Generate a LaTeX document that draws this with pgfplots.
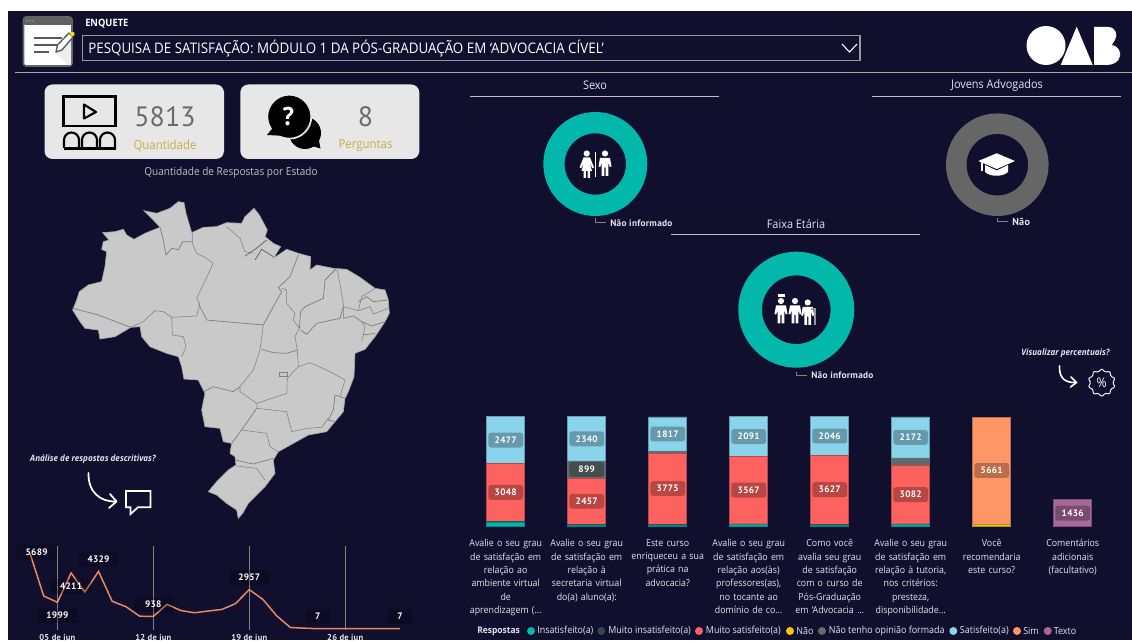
\documentclass[border=0pt]{standalone}
\usepackage{pgfplots}
\pgfplotsset{compat=1.18}
\usepackage{fontspec}
\setmainfont{Open Sans}[FakeStretch=0.92]
\newfontfamily\din{PT Sans}[LetterSpace=3]
\newfontfamily\num{PT Sans}
\usetikzlibrary{shapes.geometric}
\definecolor{bgd}{HTML}{110F2E}
\definecolor{cIns}{HTML}{01B8AA}
\definecolor{cMIns}{HTML}{374649}
\definecolor{cMSat}{HTML}{FD625E}
\definecolor{cNao}{HTML}{F2C80F}
\definecolor{cNaoT}{HTML}{5F6B6D}
\definecolor{cSat}{HTML}{8AD4EB}
\definecolor{cSim}{HTML}{FE9666}
\definecolor{cTex}{HTML}{A66999}
\definecolor{txt}{HTML}{E4E4EC}
\definecolor{gold}{HTML}{C9AC3E}
\newcommand\fs[2]{\fontsize{#1}{#2}\selectfont}
\newcommand\person[2]{% x, y of head
  \fill[white] (#1,#2) circle (3.1);
  \fill[white] (#1-5,#2+4.5) -- (#1+5,#2+4.5) -- (#1+6.5,#2+13) -- (#1+4.8,#2+13.5) -- (#1+3.4,#2+9) -- (#1+3.4,#2+22.5) -- (#1+.6,#2+22.5) -- (#1+.6,#2+14) -- (#1-.6,#2+14) -- (#1-.6,#2+22.5) -- (#1-3.4,#2+22.5) -- (#1-3.4,#2+9) -- (#1-4.8,#2+13.5) -- (#1-6.5,#2+13) -- cycle;
}
\begin{document}
\begin{tikzpicture}
\path[use as bounding box, clip] (0,0) rectangle (849pt,480pt);
\fill[white] (0,0) rectangle (849pt,480pt);
\fill[bgd] (6pt,0) rectangle (849pt,471.75pt);

% ---------- map ----------
\begin{axis}[at={(45pt,82.5pt)},anchor=south west,scale only axis,width=255pt,height=255pt,
  xmin=0,xmax=1020,ymin=0,ymax=1020,y dir=reverse,hide axis,clip=false]
\addplot[fill=black!21,draw=black!35,line width=.5pt] coordinates {
(38,360)(50,330)(58,305)(85,285)(125,275)(135,230)(140,185)(125,178)(130,155)(147,150)(128,128)(165,125)(190,118)(200,135)(222,148)(255,130)(300,112)(280,90)(252,62)(290,70)(330,55)(355,35)(372,38)(378,70)(395,128)(430,112)(470,110)(500,98)(545,100)(555,80)(582,55)(598,75)(622,120)(615,140)(640,160)(662,170)(640,205)(680,178)(715,190)(752,200)(750,240)(770,225)(820,235)(860,238)(900,262)(945,295)(975,300)(985,330)(988,370)(975,395)(945,440)(915,478)(885,490)(882,560)(865,605)(855,625)(850,665)(825,695)(800,725)(745,735)(700,760)(655,785)(640,810)(645,850)(615,890)(590,915)(565,940)(548,970)(535,985)(530,960)(500,940)(470,915)(445,905)(470,875)(505,840)(528,825)(525,800)(510,790)(515,760)(490,755)(480,715)(435,710)(425,660)(435,610)(415,570)(372,567)(365,530)(355,500)(320,490)(270,470)(245,440)(240,410)(212,412)(165,440)(120,447)(115,420)(75,415)(60,395)(38,360)} -- cycle;
\pgfplotsset{cycle list={{black!50,line width=.55pt}}}
\addplot+[no marks,black!50] coordinates {(38,355)(115,375)(212,412)};
\addplot+[no marks,black!50] coordinates {(212,412)(250,395)(285,362)(310,365)(335,382)(410,378)(420,340)(410,325)(460,220)(440,205)(410,190)(397,160)(397,130)};
\addplot+[no marks,black!50] coordinates {(300,112)(310,150)(318,195)(335,175)(355,180)(368,155)(397,155)};
\addplot+[no marks,black!50] coordinates {(335,382)(337,435)(370,440)(378,470)(365,500)};
\addplot+[no marks,black!50] coordinates {(415,340)(440,390)(610,405)};
\addplot+[no marks,black!50] coordinates {(500,110)(540,145)(555,185)(580,190)};
\addplot+[no marks,black!50] coordinates {(610,405)(640,350)(665,305)(655,293)(690,260)(715,195)};
\addplot+[no marks,black!50] coordinates {(665,295)(680,300)(680,340)(705,370)(700,390)(718,415)};
\addplot+[no marks,black!50] coordinates {(718,415)(722,365)(735,350)(790,325)(795,270)(830,235)};
\addplot+[no marks,black!50] coordinates {(832,240)(850,340)(850,385)};
\addplot+[no marks,black!50] coordinates {(722,420)(740,433)(770,400)(840,385)(850,350)};
\addplot+[no marks,black!50] coordinates {(850,350)(895,362)(905,320)(945,295)};
\addplot+[no marks,black!50] coordinates {(895,335)(920,320)(940,335)(985,330)};
\addplot+[no marks,black!50] coordinates {(895,362)(930,350)(940,372)(985,355)};
\addplot+[no marks,black!50] coordinates {(850,385)(880,378)(905,395)(935,408)(975,395)};
\addplot+[no marks,black!50] coordinates {(905,395)(915,410)(905,455)};
\addplot+[no marks,black!50] coordinates {(910,435)(945,430)};
\addplot+[no marks,black!50] coordinates {(718,415)(705,440)(712,480)(715,530)};
\addplot+[no marks,black!50] coordinates {(605,478)(640,488)(680,490)(712,480)};
\addplot+[no marks,black!50] coordinates {(610,405)(600,480)(580,540)(540,590)(540,605)};
\addplot+[no marks,black!50] coordinates {(432,605)(460,590)(520,605)(540,590)};
\addplot+[no marks,black!50] coordinates {(540,605)(590,640)(680,610)(682,565)(705,540)(715,530)(750,518)(810,545)(855,570)(840,620)};
\addplot+[no marks,black!50] coordinates {(855,625)(825,615)(820,660)(805,690)(825,695)};
\addplot+[no marks,black!50] coordinates {(805,685)(785,712)(740,715)(695,725)(680,665)(590,655)(592,640)};
\addplot+[no marks,black!50] coordinates {(590,655)(545,720)(515,760)};
\addplot+[no marks,black!50] coordinates {(545,720)(620,730)(630,770)(655,785)};
\addplot+[no marks,black!50] coordinates {(525,810)(580,822)(640,805)};
\addplot+[no marks,black!50] coordinates {(528,828)(590,835)(615,870)};
\addplot+[no marks,black!50] coordinates {(658,548)(682,548)(682,560)(658,560)(658,548)};
\addplot[no marks,black!65,line width=.5pt] coordinates {(555,198)(585,178)(620,150)};
\addplot[no marks,black!65,line width=.5pt] coordinates {(585,210)(605,178)(640,200)};
\end{axis}

% ---------- line chart ----------
\begin{axis}[at={(22.5pt,7.5pt)},anchor=south west,scale only axis,width=277.5pt,height=63pt,
  xmin=3,xmax=30,ymin=-90,ymax=6242,clip=false,
  axis line style={draw=none},tick style={draw=none},ytick=\empty,
  xtick={5,12,19,26},xticklabels={05 de jun,12 de jun,19 de jun,26 de jun},
  xmajorgrids,grid style={draw=black!50!white,line width=.8pt},
  xticklabel style={font=\din\bfseries\fs{6.4}{8},text=txt,yshift=-.8pt,inner sep=2pt}]
\addplot[no marks,draw=cSim!92!black,line width=1.1pt] coordinates {
(3,5689)(4,2470)(5,1999)(6,4211)(7,2770)(8,4329)(9,2070)(10,1670)(11,950)(12,938)(13,1840)(14,1380)(15,1210)(16,1340)(17,1460)(18,1900)(19,2957)(20,2210)(21,980)(22,100)(23,50)(24,7)(25,7)(26,7)(27,7)(28,7)(29,7)(30,7)};
\pgfplotsset{lab/.style={only marks,mark=none,point meta=explicit symbolic,nodes near coords,
  nodes near coords align={center},
  every node near coord/.append style={anchor=center,font=\din\bfseries\fs{7}{8},text=white,fill=black,
    fill opacity=.22,text opacity=1,rounded corners=2pt,minimum width=#1,minimum height=11pt,inner sep=0pt}}}
\addplot[lab=30pt,every node near coord/.append style={yshift=9pt}] coordinates {(8,4329)[4329](12,938)[938](19,2957)[2957]};
\addplot[lab=18pt,every node near coord/.append style={yshift=9pt}] coordinates {(24,7)[7](30,7)[7]};
\addplot[lab=30pt,every node near coord/.append style={yshift=-10pt}] coordinates {(5,1999)[1999](6,4211)[4211]};
\addplot[lab=30pt,every node near coord/.append style={xshift=5pt,yshift=.8pt}] coordinates {(3,5689)[5689]};
\end{axis}

% ---------- stacked bars ----------
\begin{axis}[at={(348.9pt,85pt)},anchor=south west,scale only axis,width=486pt,height=82.5pt,
  xmin=-.5,xmax=7.5,ymin=0,ymax=5813,clip=false,
  ybar stacked,bar width=28.5pt,
  axis line style={draw=none},tick style={draw=none},ytick=\empty,
  xtick={0,1,2,3,4,5,6,7},
  xticklabels={
    {Avalie o seu grau\\de satisfação em\\relação ao\\ambiente virtual\\de\\aprendizagem (…},
    {Avalie o seu grau\\de satisfação em\\relação à\\secretaria virtual\\do(a) aluno(a):},
    {Este curso\\enriqueceu a sua\\prática na\\advocacia?},
    {Avalie o seu grau\\de satisfação em\\relação aos(às)\\professores(as),\\no tocante ao\\domínio de co…},
    {Como você\\avalia seu grau\\de satisfação\\com o curso de\\Pós-Graduação\\em ‘Advocacia …},
    {Avalie o seu grau\\de satisfação em\\relação à tutoria,\\nos critérios:\\presteza,\\disponibilidade…},
    {Você\\recomendaria\\este curso?},
    {Comentários\\adicionais\\(facultativo)}},
  xticklabel style={font=\fs{7.2}{10},text=txt,align=center,text width=66pt,inner sep=0pt,anchor=north,yshift=-9.4pt}]
\addplot[fill=cIns,draw=cIns!70!bgd,line width=.4pt] coordinates {(0,250)(1,90)(2,90)(3,110)(4,100)(5,110)(6,0)(7,0)};
\addplot[fill=cMIns,draw=cMIns,line width=.4pt] coordinates {(0,40)(1,25)(2,40)(3,40)(4,40)(5,40)(6,0)(7,0)};
\addplot[fill=cMSat,draw=cMSat!70!bgd,line width=.4pt] coordinates {(0,3048)(1,2457)(2,3775)(3,3567)(4,3627)(5,3082)(6,0)(7,0)};
\addplot[fill=cNao,draw=cNao!70!bgd,line width=.4pt] coordinates {(0,0)(1,0)(2,0)(3,0)(4,0)(5,0)(6,140)(7,0)};
\addplot[fill=cNaoT,draw=cNaoT,line width=.4pt] coordinates {(0,0)(1,899)(2,85)(3,0)(4,0)(5,400)(6,0)(7,0)};
\addplot[fill=cSat,draw=cSat!70!bgd,line width=.4pt] coordinates {(0,2477)(1,2340)(2,1817)(3,2091)(4,2046)(5,2172)(6,0)(7,0)};
\addplot[fill=cSim,draw=cSim!70!bgd,line width=.4pt] coordinates {(0,0)(1,0)(2,0)(3,0)(4,0)(5,0)(6,5661)(7,0)};
\addplot[fill=cTex,draw=cTex!70!bgd,line width=.4pt] coordinates {(0,0)(1,0)(2,0)(3,0)(4,0)(5,0)(6,0)(7,1436)};
\end{axis}
% value labels of the bars
\begin{axis}[at={(348.9pt,85pt)},anchor=south west,scale only axis,width=486pt,height=82.5pt,
  xmin=-.5,xmax=7.5,ymin=0,ymax=5813,clip=false,hide axis]
\addplot[only marks,mark=none,point meta=explicit symbolic,nodes near coords,
  nodes near coords align={center},
  every node near coord/.append style={anchor=center,font=\din\bfseries\fs{7}{8},text=white,fill=black,fill opacity=.27,text opacity=1,
    rounded corners=2pt,minimum width=26pt,minimum height=11.2pt,inner sep=0pt}] coordinates {
(0,1814)[3048](0,4576)[2477]
(1,1343)[2457](1,3021)[899](1,4641)[2340]
(2,2017)[3775](2,4898)[1817]
(3,1933)[3567](3,4762)[2091]
(4,1953)[3627](4,4790)[2046]
(5,1691)[3082](5,4718)[2172]
(6,2970)[5661]
(7,718)[1436]};
\end{axis}

% ---------- decoration in pixel coordinates ----------
\begin{scope}[x=.75pt,y=-.75pt,yshift=480pt]
% header
\draw[black!35,line width=.8pt] (15,72.7) -- (1132,72.7);
\fill[white,draw=black!60,line width=1.2pt,rounded corners=2pt] (23.5,17) rectangle (72,66);
\fill[black!62,rounded corners=1.5pt] (23.5,17) rectangle (72,25);
\foreach \q in {27,30,33} \fill[white!85!black] (\q,21) circle (.7);
\fill[black!65] (34,37.2) rectangle (62,39.5);
\fill[black!65] (34,44) rectangle (58,46.2);
\fill[black!65] (34,50.6) rectangle (49,52.8);
\fill[black!7] (55,52) -- (71,38) -- (71,65) -- (68,65) -- cycle;
\draw[black!65,fill=white,line width=1pt,line join=round] (56,52) -- (57.5,45) -- (69,33) -- (73,37) -- (62,50) -- cycle;
\fill[yellow!80!orange] (72.5,34) circle (2.2);
\node[anchor=west,text=white,inner sep=0pt,font=\fs{7.6}{9}\bfseries] at (85,23.5) {ENQUETE};
\draw[black!40,line width=.8pt] (82.5,35.5) rectangle (860,60.5);
\node[anchor=west,text=white,inner sep=0pt,font=\fs{10.9}{12}] at (88,48) {PESQUISA DE SATISFAÇÃO: MÓDULO 1 DA PÓS-GRADUAÇÃO EM ‘ADVOCACIA CÍVEL’};
\draw[white,line width=.8pt] (842,44) -- (849.5,52) -- (857,44);
% logo
\fill[white] (1046,45.5) circle (19.5);
\fill[white] (1076.7,26.7) -- (1060.7,65) -- (1092.7,65) -- cycle;
\fill[white] (1094,27) -- (1108,27) .. controls (1116,27) and (1118,35) .. (1115,40) .. controls (1113,43) and (1112,44) .. (1112,45) .. controls (1118,46) and (1121,52) .. (1120,56) .. controls (1119,62) and (1113,65) .. (1107,65) -- (1094,65) -- cycle;
% cards
\fill[black!9.5,rounded corners=6pt] (44.5,84.5) rectangle (224,159);
\fill[black!9.5,rounded corners=6pt] (240.3,84.5) rectangle (419.3,159);
\node[text=black!58,inner sep=0pt,font=\fs{21}{24}] at (165,116.5) {\num 5813};
\node[text=black!58,inner sep=0pt,font=\fs{21}{24}] at (365.5,116.5) {\num 8};
\node[text=gold,inner sep=0pt,font=\fs{9.3}{10}] at (165,145.5) {Quantidade};
\node[text=gold,inner sep=0pt,font=\fs{9.3}{10}] at (365.5,145.5) {Perguntas};
\node[text=black!25,inner sep=0pt,font=\fs{8.2}{9}] at (231,172.5) {Quantidade de Respostas por Estado};
% film icon
\draw[black,line width=1.6pt] (63.5,96.5) rectangle (115.5,126);
\draw[black,line width=1.6pt,line join=round] (84,104.5) -- (96,112) -- (84,118.5) -- cycle;
\draw[black,line width=1.6pt] (63.5,148.5) -- (115.5,148.5);
\foreach \q in {71.5,89.5,107.5} \draw[black,line width=1.6pt] (\q-7.5,148) -- (\q-7.5,140) arc (180:360:7.5) -- (\q+7.5,148);
% question icon
\fill[black] (305,133) circle (16);
\fill[black] (320.5,148.5) -- (312,146) -- (318,136) -- cycle;
\fill[black,draw=black!9.5,line width=1.3pt] (289.3,116.7) circle (22);
\fill[black] (267,135) -- (276,124) -- (286,136) -- cycle;
\node[text=white,inner sep=0pt,font=\fs{19}{20}\bfseries] at (288.5,116) {?};
% speech & arrow left
\node[text=txt,inner sep=0pt,font=\fs{6.6}{8}\bfseries\itshape] at (93,459) {Análise de respostas descritivas?};
\draw[white,line width=1.3pt,line cap=round] (88.5,473) .. controls (88,492) and (100,502) .. (116,501.5);
\draw[white,line width=1.3pt,line cap=round,line join=round] (110,494) -- (116.5,501.5) -- (109,508);
\draw[white,line width=1.3pt,line join=miter] (126,491) -- (150.5,491) -- (150.5,507.3) -- (138,507.3) -- (130.5,514) -- (130.5,507.3) -- (126,507.3) -- cycle;
% right titles
\node[text=txt,inner sep=0pt,font=\fs{8.9}{10}] at (595,85.5) {Sexo};
\node[text=txt,inner sep=0pt,font=\fs{8.9}{10}] at (997,85.5) {Jovens Advogados};
\node[text=txt,inner sep=0pt,font=\fs{8.9}{10}] at (796,224) {Faixa Etária};
\draw[black!25,line width=.75pt] (470,96.5) -- (718.5,96.5);
\draw[black!25,line width=.75pt] (872,96.5) -- (1121,96.5);
\draw[black!25,line width=.75pt] (671,235) -- (920,235);
% donuts
\fill[cIns,even odd rule] (595.3,164) circle (52) (595.3,164) circle (30.7);
\fill[black!60,even odd rule] (997.3,164.7) circle (51.3) (997.3,164.7) circle (30.8);
\fill[cIns,even odd rule] (796.3,309.7) circle (58) (796.3,309.7) circle (34.3);
\draw[black!50,line width=.6pt] (595,218) -- (595,222.7) -- (606,222.7);
\draw[black!50,line width=.6pt] (997.3,218) -- (997.3,221.7) -- (1008,221.7);
\draw[black!50,line width=.6pt] (796.3,372) -- (796.3,375) -- (806.7,375);
\node[anchor=west,text=txt,inner sep=0pt,font=\din\bfseries\fs{7}{8}] at (610,222.7) {Não informado};
\node[anchor=west,text=txt,inner sep=0pt,font=\din\bfseries\fs{7.6}{8}] at (1012,221.7) {Não};
\node[anchor=west,text=txt,inner sep=0pt,font=\din\bfseries\fs{7}{8}] at (811,375) {Não informado};
% gender icon
\fill[white] (586.7,153.5) circle (3.1);
\fill[white] (583.5,157.5) -- (590,157.5) -- (594,167.5) -- (592.3,168.3) -- (589.5,162) -- (592,171) -- (590,171) -- (590,178) -- (587.7,178) -- (587.7,171) -- (585.8,171) -- (585.8,178) -- (583.5,178) -- (583.5,171) -- (581.5,171) -- (584,162) -- (581.2,168.3) -- (579.5,167.5) -- cycle;
\fill[white] (595.2,152) rectangle (596.4,177.5);
\person{605}{153.5}
% graduation cap
\fill[white] (985,165) -- (985,172) .. controls (990,177) and (1003,177) .. (1008,172) -- (1008,165) -- (996.7,170.5) -- cycle;
\fill[white] (978.3,161) -- (996.7,153.3) -- (1015,161) -- (996.7,169) -- cycle;
\fill[white] (981,162) rectangle (982.5,171);
% family icon
\person{781}{301}
\person{795}{301}
\person{807.7}{302.5}
\fill[white] (777.5,294.5) rectangle (784.5,297);
\draw[black!40,line width=.8pt] (811,309) -- (815,309) -- (815,325);
% percent
\node[text=txt,inner sep=0pt,font=\fs{6.6}{8}\bfseries\itshape] at (1065.5,353.3) {Visualizar percentuais?};
\draw[white,line width=1.2pt,line cap=round] (1059.5,366) .. controls (1059,378) and (1065,383) .. (1076,382.5);
\draw[white,line width=1.2pt,line cap=round,line join=round] (1071,377) -- (1076.5,382.5) -- (1070.5,387);
\node[draw=white,line width=.7pt,star,star points=10,star point ratio=1.26,minimum size=21pt,inner sep=0pt,rounded corners=.8pt] at (1101.7,382.7) {};
\node[text=white,inner sep=0pt,font=\fs{10}{11}] at (1101.7,382.7) {\%};
% legend
\node[anchor=west,text=txt,inner sep=0pt,font=\fs{6.9}{9}\bfseries] at (477,631) {Respostas};
\foreach \cx/\c/\tx/\t in {531/cIns/537/Insatisfeito(a),601.3/cMIns/608/Muito insatisfeito(a),699/cMSat/705.7/Muito satisfeito(a),790/cNao/796/Não,822/cNaoT/828.5/Não tenho opinião formada,953.3/cSat/959.7/Satisfeito(a),1017/cSim/1023/Sim,1047.7/cTex/1053.5/Texto}{
  \fill[\c] (\cx,631) circle (4);
  \node[anchor=west,text=txt,inner sep=0pt,font=\fs{7.3}{9}] at (\tx,631) {\t};
}
\end{scope}
\end{tikzpicture}
\end{document}
